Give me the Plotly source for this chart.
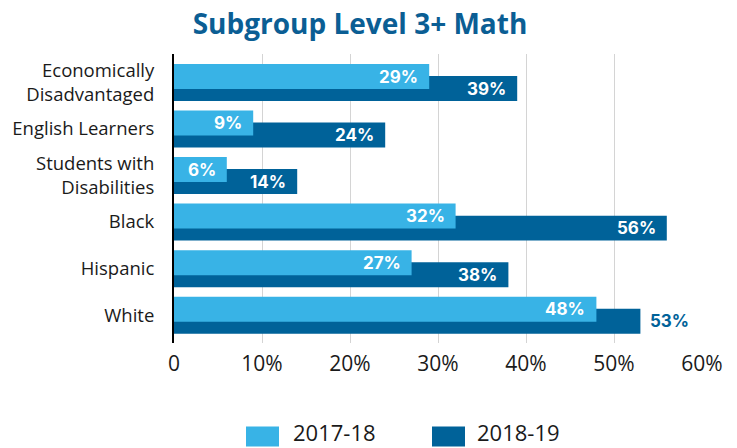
import plotly.graph_objects as go

categories = ["Economically<br>Disadvantaged", "English Learners", "Students with<br>Disabilities",
              "Black", "Hispanic", "White"]
series_names = ["2017-18", "2018-19"]
values_2017_18 = [29, 9, 6, 32, 27, 48]
values_2018_19 = [39, 24, 14, 56, 38, 53]
x_tick_values = [0, 10, 20, 30, 40, 50, 60]
x_tick_labels = ["0", "10%", "20%", "30%", "40%", "50%", "60%"]

LIGHT = "#38B3E6"
DARK = "#006299"
TITLE_COLOR = "#0B5E94"
BAR_W = 0.537
LIGHT_OFF = -0.395
DARK_OFF = -0.137

# plot area in pixels
PL, PR, PT, PB = 174, 702, 54, 343.3
PW, PH = PR - PL, PB - PT

fig = go.Figure()
fig.add_trace(go.Bar(y=categories, x=values_2018_19, orientation="h", name=series_names[1],
                     marker=dict(color=DARK, line=dict(width=0)), offset=DARK_OFF, width=BAR_W,
                     hoverinfo="x+y"))
fig.add_trace(go.Bar(y=categories, x=values_2017_18, orientation="h", name=series_names[0],
                     marker=dict(color=LIGHT, line=dict(width=0)), offset=LIGHT_OFF, width=BAR_W,
                     hoverinfo="x+y"))

annotations = []
label_font = dict(family="Inter, Open Sans, sans-serif", size=17, color="white")
for i, v in enumerate(values_2017_18):
    annotations.append(dict(x=v, y=i + LIGHT_OFF + BAR_W / 2, xref="x", yref="y", text=f"<b>{v}%</b>",
                            showarrow=False, xanchor="right", yanchor="middle", xshift=-9,
                            font=label_font))
for i, v in enumerate(values_2018_19):
    outside = (categories[i] == "White")
    annotations.append(dict(x=v, y=i + DARK_OFF + BAR_W / 2, xref="x", yref="y", text=f"<b>{v}%</b>",
                            showarrow=False, xanchor="left" if outside else "right", yanchor="middle",
                            xshift=8 if outside else -9,
                            font=dict(label_font, color=DARK if outside else "white")))

# custom legend (large swatches)
legend_items = [(series_names[0], LIGHT, 246, 291), (series_names[1], DARK, 432, 475)]
shapes = []
for name, col, sx, tx in legend_items:
    shapes.append(dict(type="rect", xref="paper", yref="paper",
                       x0=(sx - PL) / PW, x1=(sx + 33 - PL) / PW,
                       y0=(PB - 447) / PH, y1=(PB - 427) / PH,
                       fillcolor=col, line=dict(width=0), layer="above"))
    annotations.append(dict(x=(tx - PL) / PW, y=(PB - 432) / PH, xref="paper", yref="paper",
                            text=name, showarrow=False, xanchor="left", yanchor="middle",
                            font=dict(family="Open Sans", size=22, color="#1a1a1a")))

fig.update_layout(
    width=737, height=448,
    margin=dict(l=PL, r=737 - PR, t=PT, b=448 - PB),
    paper_bgcolor="white", plot_bgcolor="white",
    barmode="overlay",
    showlegend=False,
    title=dict(text="<b>Subgroup Level 3+ Math</b>", x=360 / 737, xanchor="center", xref="container",
               y=1 - 34 / 448, yanchor="bottom", yref="container",
               font=dict(family="Open Sans", size=28, color=TITLE_COLOR)),
    xaxis=dict(range=[0, 60], tickvals=x_tick_values, ticktext=x_tick_labels,
               showgrid=True, gridcolor="#D4D4D4", gridwidth=1.3, zeroline=False, showline=False,
               ticks="", ticklabelstandoff=6, tickfont=dict(family="Open Sans", size=21, color="#1a1a1a"),
               fixedrange=True),
    yaxis=dict(range=[5.6, -0.61], autorange=False, showline=True, linecolor="black", linewidth=2,
               showgrid=False, zeroline=False, ticks="", ticklabelstandoff=14,
               tickfont=dict(family="Open Sans", size=18.5, color="#1a1a1a"), fixedrange=True),
    annotations=annotations,
    shapes=shapes,
)

fig.write_html("out.html", config={"displayModeBar": False},
               post_script="document.body.style.margin='0';document.body.style.overflow='hidden';")
